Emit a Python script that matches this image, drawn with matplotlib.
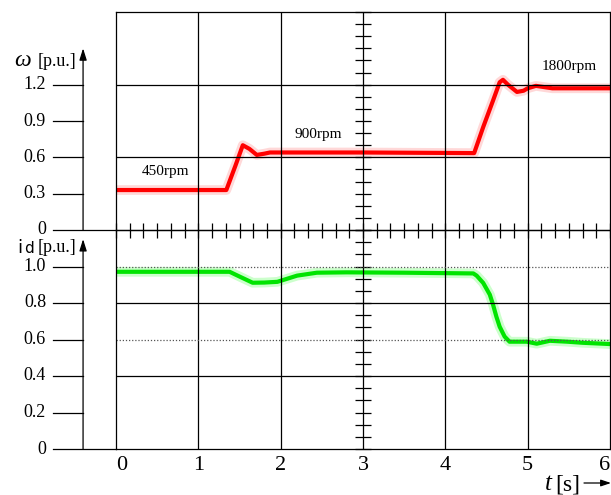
import matplotlib.pyplot as plt

# rotor speed in p.u.
t_speed = [0, 1.34, 1.45, 1.54, 1.62, 1.71, 1.80, 1.87, 2.2, 3.0, 4.35,
           4.46, 4.58, 4.66, 4.70, 4.76, 4.87, 4.95, 5.0, 5.1, 5.3, 6.0]
w_speed = [0.33, 0.33, 0.53, 0.70, 0.67, 0.62, 0.63, 0.64, 0.64, 0.64, 0.635,
           0.85, 1.07, 1.22, 1.24, 1.20, 1.14, 1.15, 1.17, 1.19, 1.17, 1.17]

# d-axis current in p.u.
t_id = [0, 1.38, 1.50, 1.66, 1.80, 1.96, 2.2, 2.44, 2.8, 3.5, 4.34, 4.38,
        4.46, 4.54, 4.58, 4.62, 4.66, 4.72, 4.78, 4.99, 5.11, 5.27, 5.48,
        5.67, 5.91, 6.0]
i_d = [0.971, 0.971, 0.945, 0.911, 0.912, 0.916, 0.95, 0.966, 0.968, 0.966,
       0.962, 0.95, 0.91, 0.846, 0.79, 0.725, 0.67, 0.616, 0.588, 0.588,
       0.577, 0.593, 0.588, 0.582, 0.577, 0.575]

w_ticks = [0, 0.3, 0.6, 0.9, 1.2]
id_ticks = [0, 0.2, 0.4, 0.6, 0.8, 1.0]
t_ticks = [0, 1, 2, 3, 4, 5, 6]
speed_names = ["450rpm", "900rpm", "1800rpm"]

W, H = 611, 495
SERIF = "Liberation Serif"
plt.rcParams["font.family"] = SERIF


def fx(x):
    return x / W


def fy(y):
    return 1 - y / H


fig = plt.figure(figsize=(W / 100, H / 100), dpi=100)
ax_w = fig.add_axes([fx(116), fy(230), (610 - 116) / W, (230 - 12) / H])
ax_i = fig.add_axes([fx(116), fy(449), (610 - 116) / W, (449 - 230) / H])

LW = 0.9
x_lab = -0.85      # right edge of the y tick labels (in seconds)
x_tick0 = -0.765   # left end of the y tick strokes
x_axis = -0.40     # the arrow axis line

for ax, ylim, step in [(ax_w, 1.8, 0.1), (ax_i, 1.2, 0.2 / 3)]:
    ax.set_xlim(0, 6)
    ax.set_ylim(0, ylim)
    ax.set_facecolor("none")
    ax.set_xticks([])
    ax.set_yticks([])
    for s in ax.spines.values():
        s.set_linewidth(LW)
        s.set_zorder(5)
    for t in [1, 2, 4, 5]:
        ax.axvline(t, color="black", lw=LW, zorder=4)
    # centre line with scope ticks
    ax.axvline(3, color="black", lw=LW, zorder=4)
    n = int(round(ylim / step))
    ax.plot([3] * (n + 1), [k * step for k in range(n + 1)], ls="none",
            marker="_", ms=11.5, mew=0.9, color="black", zorder=4,
            clip_on=False)

# speed panel
for v in [0.6, 1.2]:
    ax_w.axhline(v, color="black", lw=LW, zorder=4)
ax_w.plot(t_speed, w_speed, color="#ff8080", lw=7, alpha=0.3, zorder=2,
          solid_joinstyle="round")
ax_w.plot(t_speed, w_speed, color="#ff0000", lw=3, zorder=3,
          solid_joinstyle="round")
# time ticks on the middle line
ax_w.plot([k / 6 for k in range(37)], [0] * 37, ls="none", marker="|",
          ms=10.8, mew=0.9, color="black", zorder=6, clip_on=False)

for v in w_ticks:
    x1 = 0 if v == 0 else x_axis
    ax_w.plot([x_tick0, x1], [v, v], color="black", lw=LW, clip_on=False)
    ax_w.text(x_lab, v, "0" if v == 0 else f"{v:.1f}", ha="right",
              va="center", fontsize=13)
ax_w.annotate("", xy=(x_axis, 1.50), xytext=(x_axis, 0),
              arrowprops=dict(arrowstyle="-|>,head_length=0.7,head_width=0.22",
                              lw=LW, color="black", shrinkA=0, shrinkB=0),
              annotation_clip=False)

for name, tx, wy in zip(speed_names, [0.6, 2.46, 5.5], [0.48, 0.785, 1.346]):
    ax_w.text(tx, wy, name, ha="center", va="center", fontsize=11)

# current panel
for v in [0.4, 0.8]:
    ax_i.axhline(v, color="black", lw=LW, zorder=4)
for v in [0.6, 1.0]:
    ax_i.axhline(v, color="#555555", lw=0.9, ls=(0, (1, 1.5)), zorder=4)
ax_i.plot(t_id, i_d, color="#80ff80", lw=7, alpha=0.4, zorder=2,
          solid_joinstyle="round")
ax_i.plot(t_id, i_d, color="#00e400", lw=3, zorder=3,
          solid_joinstyle="round")

for v in id_ticks:
    x1 = 0 if v == 0 else x_axis
    ax_i.plot([x_tick0, x1], [v, v], color="black", lw=LW, clip_on=False)
    ax_i.text(x_lab, v, "0" if v == 0 else f"{v:.1f}", ha="right",
              va="center", fontsize=13)
ax_i.annotate("", xy=(x_axis, 1.15), xytext=(x_axis, 0),
              arrowprops=dict(arrowstyle="-|>,head_length=0.7,head_width=0.22",
                              lw=LW, color="black", shrinkA=0, shrinkB=0),
              annotation_clip=False)

for t in t_ticks:
    ha = "left" if t == 0 else ("right" if t == 6 else "center")
    ax_i.text(t, -0.088, str(t), ha=ha, va="center", fontsize=16)

# axis titles
fig.text(fx(23), fy(61), "ω", ha="center", va="center", fontsize=17,
         style="italic")
fig.text(fx(38), fy(62), "[p.u.]", ha="left", va="center", fontsize=13)
fig.text(fx(17), fy(253), "i", ha="left", va="baseline", fontsize=13,
         family="DejaVu Sans")
fig.text(fx(24), fy(253), "d", ha="left", va="baseline", fontsize=11,
         family="DejaVu Sans")
fig.text(fx(38), fy(248), "[p.u.]", ha="left", va="center", fontsize=13)

fig.text(fx(545), fy(490), "t", ha="left", va="baseline", fontsize=18,
         style="italic")
fig.text(fx(555), fy(490), "[s]", ha="left", va="baseline", fontsize=17)
ax_i.annotate("", xy=(611, H - 483), xytext=(584, H - 483),
              xycoords="figure pixels", textcoords="figure pixels",
              arrowprops=dict(arrowstyle="-|>,head_length=0.6,head_width=0.2",
                              lw=LW, color="black", shrinkA=0, shrinkB=0),
              annotation_clip=False)

fig.savefig("out.png", dpi=100)
